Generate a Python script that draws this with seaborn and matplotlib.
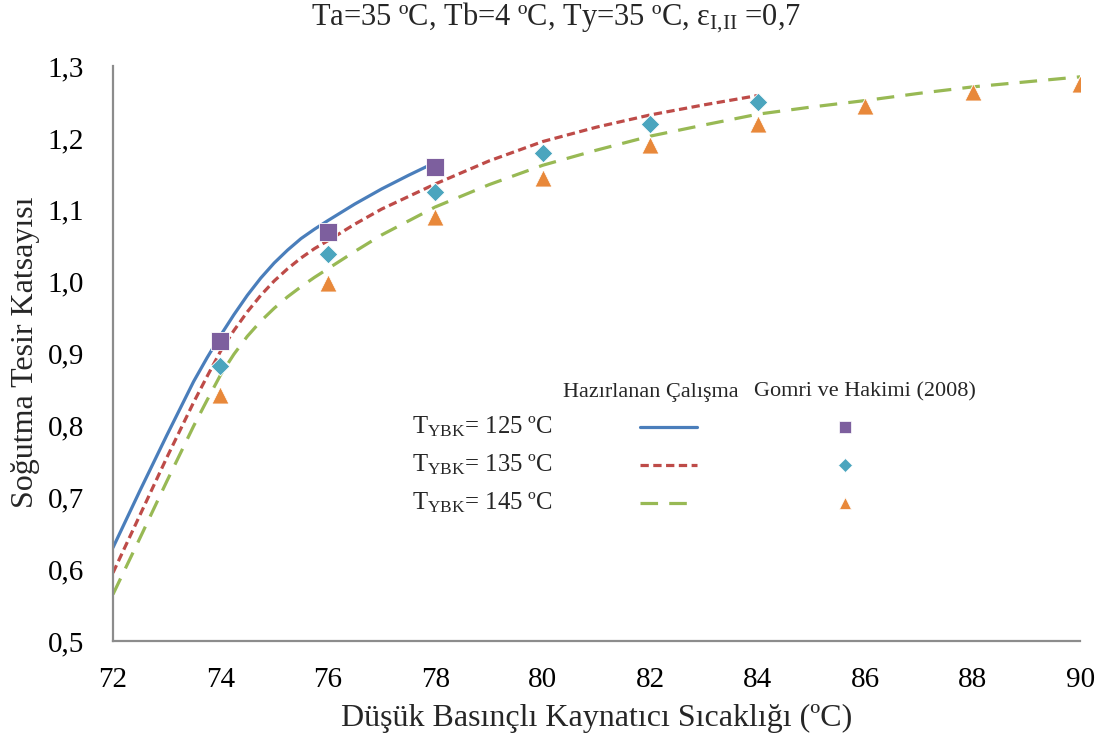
import matplotlib
matplotlib.use("Agg")
import matplotlib.pyplot as plt
import seaborn as sns
from matplotlib.ticker import FuncFormatter, MultipleLocator

# --- model curves (Hazırlanan Çalışma) ---
x_125 = [72, 72.5, 73, 73.5, 73.75, 74, 74.25, 74.5, 74.75, 75, 75.25, 75.5, 75.75, 76,
         76.5, 77, 77.5, 78]
y_125 = [0.630, 0.709, 0.786, 0.861, 0.894, 0.925, 0.954, 0.981, 1.005, 1.026, 1.044, 1.060,
         1.073, 1.085, 1.108, 1.129, 1.148, 1.166]

x_135 = [72, 72.5, 73, 73.5, 73.75, 74, 74.25, 74.5, 74.75, 75, 75.25, 75.5, 75.75, 76,
         76.5, 77, 78, 79, 80, 81, 82, 83, 84]
y_135 = [0.595, 0.675, 0.755, 0.832, 0.868, 0.903, 0.932, 0.958, 0.981, 1.001, 1.018, 1.033,
         1.046, 1.057, 1.080, 1.101, 1.136, 1.168, 1.195, 1.215, 1.232, 1.246, 1.259]

x_145 = [72, 72.5, 73, 73.5, 73.75, 74, 74.25, 74.5, 74.75, 75, 75.25, 75.5, 75.75, 76,
         76.5, 77, 78, 79, 80, 81, 82, 83, 84, 85, 86, 87, 88, 89, 90]
y_145 = [0.565, 0.643, 0.722, 0.799, 0.835, 0.870, 0.899, 0.924, 0.945, 0.963, 0.979, 0.993,
         1.006, 1.018, 1.042, 1.065, 1.104, 1.135, 1.162, 1.183, 1.2025, 1.218, 1.233, 1.243,
         1.252, 1.262, 1.271, 1.278, 1.285]

# --- reference data (Gomri ve Hakimi, 2008) ---
gx_125 = [74, 76, 78]
gy_125 = [0.918, 1.069, 1.160]
gx_135 = [74, 76, 78, 80, 82, 84]
gy_135 = [0.883, 1.039, 1.125, 1.179, 1.220, 1.250]
gx_145 = [74, 76, 78, 80, 82, 84, 86, 88, 90]
gy_145 = [0.843, 0.998, 1.090, 1.144, 1.190, 1.220, 1.244, 1.264, 1.275]

series_labels = ["125", "135", "145"]
title_text = r"Ta=35 ºC, Tb=4 ºC, Ty=35 ºC, ε$_{\rm I{,}II}$ =0,7"
xlabel_text = "Düşük Basınçlı Kaynatıcı Sıcaklığı (ºC)"
ylabel_text = "Soğutma Tesir Katsayısı"
head_model = "Hazırlanan Çalışma"
head_ref = "Gomri ve Hakimi (2008)"

sns.set_style("white")
plt.rcParams["font.family"] = ["Liberation Serif", "DejaVu Serif"]
plt.rcParams["mathtext.fontset"] = "custom"
plt.rcParams["mathtext.rm"] = "Liberation Serif"
plt.rcParams["mathtext.it"] = "Liberation Serif:italic"

line_colors = ["#4A7EBB", "#BE4B48", "#98B954"]
line_styles = ["-", (0, (2.6, 1.4)), (0, (5.5, 3.5))]
mark_colors = ["#7D5F9E", "#4BA5BE", "#E8883A"]
mark_shapes = ["s", "D", "^"]
mark_sizes = [150, 90, 150]

fig = plt.figure(figsize=(11.13, 7.42), dpi=100)
ax = fig.add_axes([0.1015, 0.136, 0.869, 0.775])

curves = [(x_125, y_125), (x_135, y_135), (x_145, y_145)]
points = [(gx_125, gy_125), (gx_135, gy_135), (gx_145, gy_145)]

for (cx, cy), c, ls in zip(curves, line_colors, line_styles):
    sns.lineplot(x=cx, y=cy, ax=ax, color=c, linestyle=ls, linewidth=2.3,
                 estimator=None, sort=False)

for (px, py), c, m, s in zip(points, mark_colors, mark_shapes, mark_sizes):
    sns.scatterplot(x=px, y=py, ax=ax, color=c, marker=m, s=s,
                    edgecolor="white", linewidth=0.6, zorder=5)

ax.set_xlim(72, 90)
ax.set_ylim(0.5, 1.3)
ax.xaxis.set_major_locator(MultipleLocator(2))
ax.yaxis.set_major_locator(MultipleLocator(0.1))
ax.yaxis.set_major_formatter(FuncFormatter(lambda v, p: f"{v:.1f}".replace(".", ",")))
ax.xaxis.set_major_formatter(FuncFormatter(lambda v, p: f"{v:.0f}"))
ax.tick_params(axis="both", length=0, labelsize=21, colors="black")
ax.tick_params(axis="y", pad=21)
ax.tick_params(axis="x", pad=19)

for side in ["top", "right"]:
    ax.spines[side].set_visible(False)
for side in ["left", "bottom"]:
    ax.spines[side].set_color("#8C8C8C")
    ax.spines[side].set_linewidth(1.6)

ax.set_xlabel("")
ax.set_ylabel("")
fig.text(0.536, 0.032, xlabel_text, ha="center", va="center", fontsize=23)
fig.text(0.0225, 0.525, ylabel_text, ha="center", va="center", rotation=90, fontsize=23)
fig.text(0.5, 0.976, title_text, ha="center", va="center", fontsize=22)

# table-style legend inside the axes
tr = ax.transAxes
ax.text(0.556, 0.433, head_model, transform=tr, ha="center", va="center", fontsize=16)
ax.text(0.777, 0.433, head_ref, transform=tr, ha="center", va="center", fontsize=16)
row_y = [0.372, 0.306, 0.240]
for yy, lab, c, ls, mc, m in zip(row_y, series_labels, line_colors, line_styles,
                                 mark_colors, mark_shapes):
    ax.text(0.309, yy, r"T$_{\rm YBK}$= " + lab + " ºC", transform=tr,
            ha="left", va="center", fontsize=17.8)
    ax.plot([0.545, 0.604], [yy, yy], transform=tr, color=c, linestyle=ls, linewidth=2.3)
    ax.plot([0.757], [yy], transform=tr, marker=m, color=mc,
            markersize=7.5 if m == "D" else 9,
            linestyle="none", markeredgecolor="white", markeredgewidth=0.5)

fig.savefig("out.png", dpi=100)
